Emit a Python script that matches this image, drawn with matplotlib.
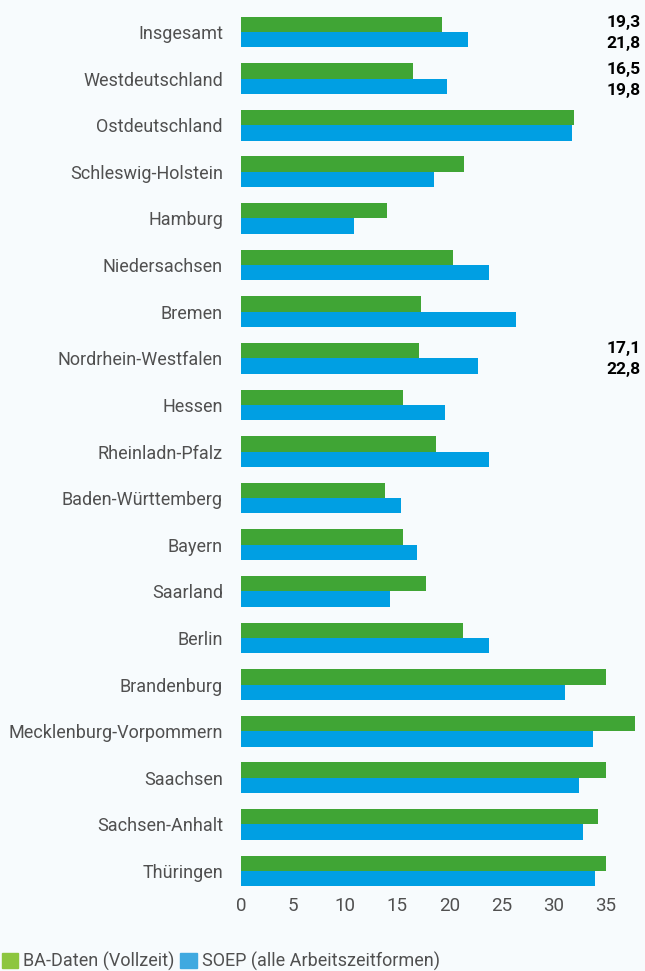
import matplotlib
matplotlib.use("Agg")
import matplotlib.pyplot as plt
import numpy as np
from matplotlib.patches import Patch

plt.rcParams['font.family'] = ['Roboto', 'DejaVu Sans']

# Daten
laender = ["Insgesamt", "Westdeutschland", "Ostdeutschland", "Schleswig-Holstein",
           "Hamburg", "Niedersachsen", "Bremen", "Nordrhein-Westfalen", "Hessen",
           "Rheinladn-Pfalz", "Baden-Württemberg", "Bayern", "Saarland", "Berlin",
           "Brandenburg", "Mecklenburg-Vorpommern", "Saachsen", "Sachsen-Anhalt",
           "Thüringen"]
ba_daten = [19.3, 16.5, 32.0, 21.4, 14.0, 20.4, 17.3, 17.1, 15.6, 18.7,
            13.8, 15.6, 17.8, 21.3, 35.1, 37.8, 35.1, 34.3, 35.1]
soep = [21.8, 19.8, 31.8, 18.5, 10.9, 23.8, 26.4, 22.8, 19.6, 23.8,
        15.4, 16.9, 14.3, 23.8, 31.1, 33.8, 32.5, 32.8, 34.0]
# nur diese Werte stehen als Zahl im Bild
labels_idx = [0, 1, 7]
xticks = [0, 5, 10, 15, 20, 25, 30, 35]

bg = "#f7fbfd"
gruen = "#40a535"
blau = "#009fe3"

fig = plt.figure(figsize=(6.45, 9.71), dpi=100, facecolor=bg)
ax = fig.add_axes([241 / 645, 1 - 894.3 / 971, 1 - 241 / 645, (894.3 - 8.7) / 971])
ax.set_facecolor(bg)

y = np.arange(len(laender))
h = 0.33
ax.barh(y - h / 2, ba_daten, height=h, color=gruen)
ax.barh(y + h / 2, soep, height=h, color=blau)

ax.set_xlim(0, 38.8)
ax.set_ylim(len(laender) - 0.5, -0.5)
ax.set_yticks(y)
ax.set_yticklabels(laender, fontsize=13, color="#505050")
ax.set_xticks(xticks)
ax.set_xticklabels([str(t) for t in xticks], fontsize=13.5, color="#505050")
ax.tick_params(length=0)
ax.tick_params(axis="y", pad=13)
ax.tick_params(axis="x", pad=2)
for s in ax.spines.values():
    s.set_visible(False)

for i in labels_idx:
    ax.text(0.99, i - 0.2, f"{ba_daten[i]:.1f}".replace(".", ","), transform=ax.get_yaxis_transform(),
            ha="right", va="center", fontsize=12.5, fontweight="bold", color="black")
    ax.text(0.99, i + 0.25, f"{soep[i]:.1f}".replace(".", ","), transform=ax.get_yaxis_transform(),
            ha="right", va="center", fontsize=12.5, fontweight="bold", color="black")

handles = [Patch(color="#8dc63f", label="BA-Daten (Vollzeit)"),
           Patch(color="#3fa9e0", label="SOEP (alle Arbeitszeitformen)")]
fig.legend(handles=handles, loc="lower left", bbox_to_anchor=(0.0, -0.002), ncol=2,
           frameon=False, fontsize=13, handlelength=0.9, handleheight=0.9,
           handletextpad=0.3, columnspacing=0.3, labelcolor="#505050", borderaxespad=0,
           borderpad=0.1)

fig.savefig("out.png", dpi=100, facecolor=bg)
